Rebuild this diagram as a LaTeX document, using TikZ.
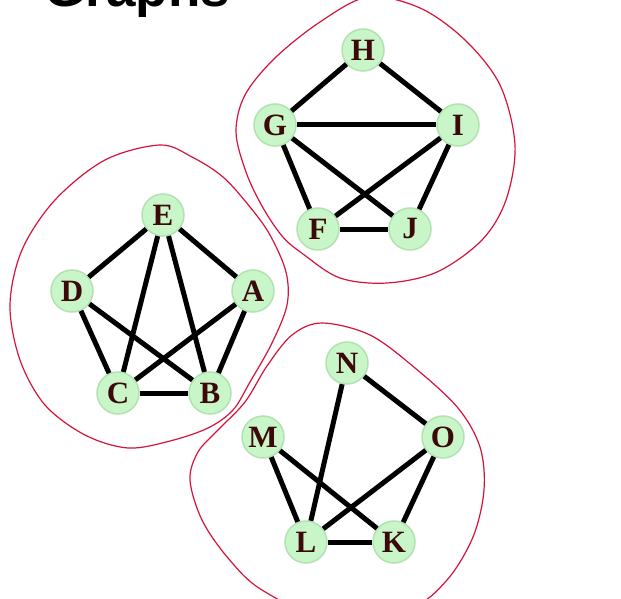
\documentclass[tikz,border=0pt]{standalone}
\usepackage{fontspec}
\setmainfont{Liberation Serif}
\newfontfamily\titlefont{Liberation Sans}
\usepackage{tikz}
\usepackage{xcolor}
\definecolor{vfill}{RGB}{200,246,200}
\definecolor{vring}{RGB}{178,226,178}
\definecolor{vtext}{RGB}{60,8,10}
\definecolor{blob}{RGB}{212,20,60}

\begin{document}
\begin{tikzpicture}[x=1pt, y=-1pt,
    vert/.style={circle, fill=vfill, draw=vring, line width=1.5pt, minimum size=42pt,
        inner sep=0pt, text=vtext, font=\fontsize{31}{31}\selectfont\bfseries},
    edge/.style={line width=5pt},
    comp/.style={blob, line width=1.2pt}]
\useasboundingbox[fill=white] (0,0) rectangle (621,599);
\node[anchor=base west, font=\titlefont\fontsize{53}{53}\selectfont\bfseries] (title) at (41,7) {Graphs};
% first component
\node[vert] (E) at (163,215) {E};
\node[vert] (D) at (72,291) {D};
\node[vert] (A) at (253,291) {A};
\node[vert] (C) at (118,393) {C};
\node[vert] (B) at (210,393) {B};
% second component
\node[vert] (H) at (363,50) {H};
\node[vert] (G) at (275,125) {G};
\node[vert] (I) at (458,125) {I};
\node[vert] (F) at (318,229) {F};
\node[vert] (J) at (410,229) {J};
% third component
\node[vert] (N) at (347,363) {N};
\node[vert] (M) at (263,437) {M};
\node[vert] (O) at (443,437) {O};
\node[vert] (L) at (306,542) {L};
\node[vert] (K) at (394,542) {K};
\foreach \a/\b in {E/D, E/A, E/C, E/B, D/C, D/B, A/C, A/B, C/B,
    H/G, H/I, G/I, G/F, G/J, I/F, I/J, F/J,
    N/O, N/L, M/L, M/K, O/L, O/K, L/K}
    \draw[edge] (\a) -- (\b);
% outlines round the components
\draw[comp] plot[smooth cycle, tension=0.55] coordinates {(160,145) (192,157) (223,177)
    (250,207) (270,235) (286,272) (287,305) (272,343) (250,382) (233,410) (208,428)
    (170,441) (128,448) (85,435) (45,405) (20,360) (10,305) (22,250) (55,200) (105,160)};
\draw[comp] plot[smooth cycle, tension=0.55] coordinates {(368,-3) (420,8) (465,40)
    (500,85) (515,145) (506,200) (482,240) (437,272) (387,283) (340,278) (303,254)
    (282,236) (262,206) (246,172) (236,132) (245,95) (275,58) (320,22)};
\draw[comp] plot[smooth cycle, tension=0.55] coordinates {(322,323) (370,335) (415,368)
    (458,408) (480,447) (484,490) (473,537) (447,580) (410,608) (330,620) (262,590)
    (228,558) (202,520) (190,480) (198,452) (218,430) (245,402) (267,366) (292,335)};
\end{tikzpicture}
\end{document}
